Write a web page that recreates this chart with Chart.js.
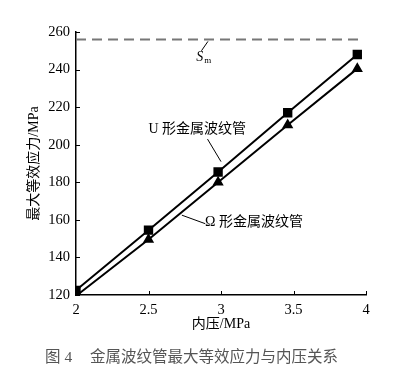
<!DOCTYPE html>
<html>
<head>
<meta charset="utf-8">
<script src="https://cdn.jsdelivr.net/npm/chart.js@4/dist/chart.umd.min.js"></script>
<style>
  html, body { margin: 0; padding: 0; background: #fff; }
  #wrap { width: 395px; height: 373px; }
</style>
</head>
<body>
<div id="wrap"><canvas id="chart"></canvas></div>
<script>
    // inner pressure (MPa) and max equivalent stress (MPa)
    var pressure = [2, 2.5, 2.98, 3.46, 3.94];
    var stressU = [122.5, 154.5, 185.5, 217, 248];
    var stressOmega = [119.5, 149.5, 180, 210.5, 240.5];
    var smValue = 256;
    var smRange = [2, 3.97];
    var xTicks = [2, 2.5, 3, 3.5, 4];
    var yTicks = [120, 140, 160, 180, 200, 220, 240, 260];

    var serif = "'Liberation Serif', 'Noto Sans CJK SC', serif";

    function pts(xs, ys) {
        return xs.map(function (x, i) { return { x: x, y: ys[i] }; });
    }

    // inward ticks + annotations + caption
    var extras = {
        id: 'extras',
        afterDraw: function (chart) {
            var ctx = chart.ctx;
            var xs = chart.scales.x, ys = chart.scales.y;
            var area = chart.chartArea;
            ctx.save();
            ctx.strokeStyle = '#000';
            ctx.lineWidth = 1;
            ctx.beginPath();
            xTicks.forEach(function (v) {
                var px = Math.round(xs.getPixelForValue(v)) + 0.5;
                ctx.moveTo(px, area.bottom);
                ctx.lineTo(px, area.bottom - 4);
            });
            yTicks.forEach(function (v) {
                var py = Math.round(ys.getPixelForValue(v)) + 0.5;
                ctx.moveTo(area.left, py);
                ctx.lineTo(area.left + 4, py);
            });
            ctx.stroke();

            function P(x, y) { return [xs.getPixelForValue(x), ys.getPixelForValue(y)]; }

            // leader lines
            ctx.lineWidth = 1;
            var leaders = [
                [[2.907, 203], [3.0, 191]],   // U
                [[2.73, 162.5], [2.89, 158]], // Omega
                [[2.91, 255], [2.865, 250]]   // Sm
            ];
            ctx.beginPath();
            leaders.forEach(function (l) {
                var a = P(l[0][0], l[0][1]), b = P(l[1][0], l[1][1]);
                ctx.moveTo(a[0], a[1]);
                ctx.lineTo(b[0], b[1]);
            });
            ctx.stroke();

            ctx.fillStyle = '#000';
            ctx.textBaseline = 'middle';
            ctx.textAlign = 'left';
            ctx.font = '14px ' + serif;
            var u = P(2.5, 208);
            ctx.fillText('U 形金属波纹管', u[0], u[1]);
            var o = P(2.89, 158.5);
            ctx.fillText('Ω 形金属波纹管', o[0], o[1]);

            var s = P(2.83, 246.5);
            ctx.font = 'italic 14px ' + serif;
            ctx.fillText('S', s[0], s[1]);
            ctx.font = '9px ' + serif;
            ctx.fillText('m', s[0] + 8, s[1] + 3);

            // caption
            ctx.fillStyle = '#555';
            ctx.font = '15.5px ' + serif;
            ctx.fillText('图 4', 45, 358);
            ctx.fillText('金属波纹管最大等效应力与内压关系', 90, 358);
            ctx.restore();
        }
    };

    var ctxC = document.getElementById('chart').getContext('2d');
    var myChart = new Chart(ctxC, {
        type: 'scatter',
        data: {
            datasets: [
                {
                    label: 'U',
                    data: pts(pressure, stressU),
                    showLine: true,
                    borderColor: '#000',
                    backgroundColor: '#000',
                    borderWidth: 2,
                    pointStyle: 'rect',
                    pointRadius: 5.2,
                    pointHoverRadius: 5.2
                },
                {
                    label: 'Omega',
                    data: pts(pressure, stressOmega),
                    showLine: true,
                    borderColor: '#000',
                    backgroundColor: '#000',
                    borderWidth: 2,
                    pointStyle: 'triangle',
                    pointRadius: 4.5,
                    pointHoverRadius: 4.5
                },
                {
                    label: 'Sm',
                    data: pts(smRange, [smValue, smValue]),
                    showLine: true,
                    borderColor: '#777',
                    borderWidth: 1.8,
                    borderDash: [10, 6],
                    pointRadius: 0
                }
            ]
        },
        options: {
            responsive: true,
            maintainAspectRatio: false,
            animation: false,
            layout: { padding: { left: 0, top: 32, right: 29, bottom: 0 } },
            plugins: {
                legend: { display: false },
                tooltip: { enabled: false }
            },
            scales: {
                x: {
                    type: 'linear',
                    min: 2,
                    max: 4,
                    afterFit: function (s) { s.height = 78; },
                    afterBuildTicks: function (s) { s.ticks = xTicks.map(function (v) { return { value: v }; }); },
                    grid: { display: false, drawTicks: false },
                    border: { color: '#000', width: 1.5 },
                    ticks: {
                        padding: 6,
                        color: '#000',
                        font: { family: serif, size: 14.5 },
                        callback: function (v) { return String(v); }
                    },
                    title: {
                        display: true,
                        text: '内压/MPa',
                        color: '#000',
                        font: { family: serif, size: 14 },
                        padding: { top: 0, bottom: 40 }
                    }
                },
                y: {
                    type: 'linear',
                    min: 120,
                    max: 260,
                    afterFit: function (s) { s.width = 76; },
                    afterBuildTicks: function (s) { s.ticks = yTicks.map(function (v) { return { value: v }; }); },
                    grid: { display: false, drawTicks: false },
                    border: { color: '#000', width: 1.5 },
                    ticks: {
                        padding: 6,
                        color: '#000',
                        font: { family: serif, size: 14.5 }
                    },
                    title: {
                        display: true,
                        text: '最大等效应力/MPa',
                        color: '#000',
                        font: { family: serif, size: 14 },
                        padding: { top: 26, bottom: 0 }
                    }
                }
            }
        },
        plugins: [extras]
    });
</script>
</body>
</html>
